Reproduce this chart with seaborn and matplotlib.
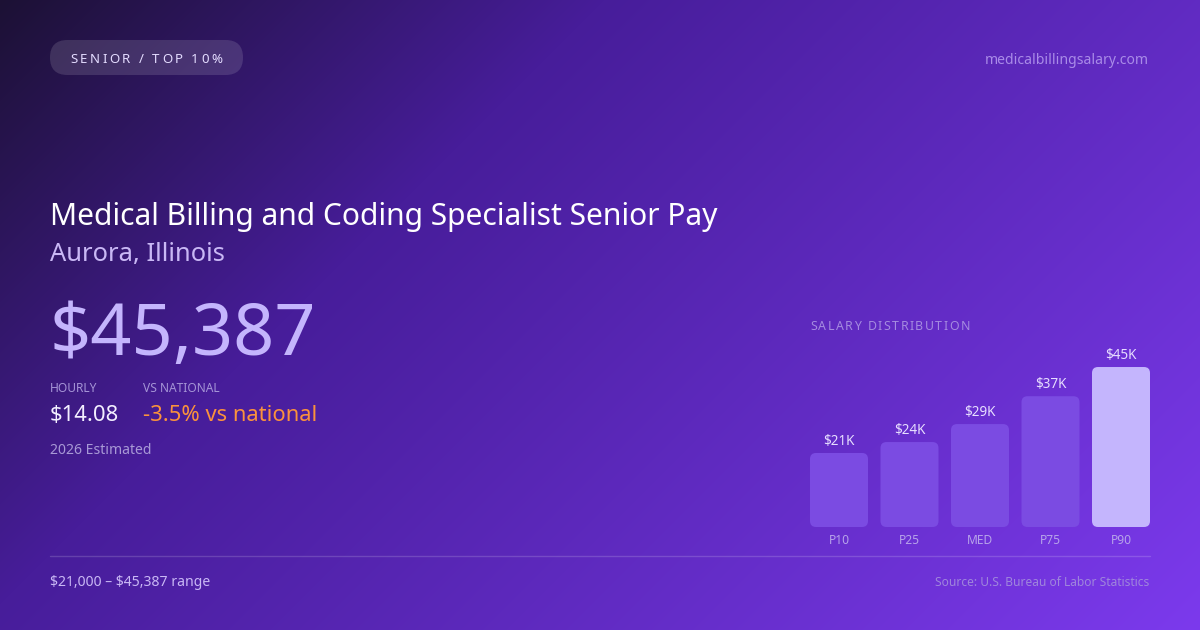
import numpy as np
import pandas as pd
import matplotlib
matplotlib.use("Agg")
import matplotlib.pyplot as plt
import matplotlib.colors as mcolors
from matplotlib.patches import FancyBboxPatch
import seaborn as sns

# ---- data ----
categories = ["P10", "P25", "MED", "P75", "P90"]
salaries = [21000, 24100, 29200, 37100, 45387]
value_labels = ["$21K", "$24K", "$29K", "$37K", "$45K"]
bar_colors = ["#7b4be2", "#7b4be2", "#7b4be2", "#7b4be2", "#c4b5fd"]

badge_text = "SENIOR / TOP 10%"
site = "medicalbillingsalary.com"
title = "Medical Billing and Coding Specialist Senior Pay"
subtitle = "Aurora, Illinois"
big_value = "$45,387"
hourly_label = "HOURLY"
hourly_value = "$14.08"
national_label = "VS NATIONAL"
national_value = "-3.5% vs national"
estimated = "2026 Estimated"
chart_title = "SALARY DISTRIBUTION"
range_text = "$21,000 \u2013 $45,387 range"
source_text = "Source: U.S. Bureau of Labor Statistics"

W, H = 1200, 630
sns.set_theme(style="white")
plt.rcParams["font.family"] = ["Noto Sans", "DejaVu Sans"]
plt.rcParams["text.parse_math"] = False

fig = plt.figure(figsize=(W / 100, H / 100), dpi=100)

# ---- background gradient ----
bg = fig.add_axes([0, 0, 1, 1])
yy, xx = np.mgrid[0:H, 0:W]
t = (xx + yy) / (W + H)
stops_t = [0.0, 0.33, 1.0]
stops_c = [mcolors.to_rgb(c) for c in ["#1c1134", "#471d9a", "#7c3aed"]]
img = np.zeros((H, W, 3))
for ch in range(3):
    img[..., ch] = np.interp(t, stops_t, [c[ch] for c in stops_c])
bg.imshow(img, extent=[0, W, H, 0], aspect="auto", interpolation="bilinear")
bg.set_xlim(0, W)
bg.set_ylim(H, 0)
bg.axis("off")


def pt(px):
    return px * 0.72


def ftext(x, y, s, size, color, ha="left", va="center", weight="normal", alpha=1.0):
    return bg.text(x, y, s, fontsize=pt(size), color=color, ha=ha, va=va,
                   weight=weight, alpha=alpha)


def spaced_text(x, y, s, size, color, spacing):
    renderer = fig.canvas.get_renderer()
    cur = x
    for ch in s:
        tt = bg.text(cur, y, ch, fontsize=pt(size), color=color, ha="left", va="center")
        if ch == " ":
            w = size * 0.26
        else:
            bb = tt.get_window_extent(renderer=renderer)
            w = bb.width
        cur += w + spacing
    return cur


# badge
badge = FancyBboxPatch((50, 40), 193, 35, boxstyle="round,pad=0,rounding_size=17.5",
                       facecolor=(1, 1, 1, 0.13), edgecolor="none")
bg.add_patch(badge)
spaced_text(70, 59.5, badge_text, 13.3, "#e4dcff", 2.5)

ftext(1149, 60, site, 14, "#a98be8", ha="right")

ftext(50, 217, title, 30, "#ffffff")
ftext(50, 254, subtitle, 25.5, "#c9b8f5")
ftext(49, 337, big_value, 72, "#c4b5fd")

ftext(50, 389, hourly_label, 12, "#a594d6")
ftext(50, 415.5, hourly_value, 22, "#f3efff")
ftext(143, 389, national_label, 12, "#a594d6")
ftext(143, 415.5, national_value, 22, "#fb923c")
ftext(50, 451, estimated, 14, "#a899d6")

spaced_text(810, 327, chart_title, 12.3, "#a58be0", 1.5)

bg.plot([50, 1150], [556, 556], color=(1, 1, 1, 0.16), lw=1)
ftext(50, 583, range_text, 14, "#c9b8f5")
ftext(1149, 583, source_text, 12, "#9f86dc", ha="right")

# ---- bar chart ----
slot = 70.5
bar_w = 58 / slot
px_per_unit_y = 3.525 / 1000
ax_left, ax_right = 810, 1150
ax_bottom, ax_top = 527, 340
ax = fig.add_axes([ax_left / W, 1 - ax_bottom / H,
                   (ax_right - ax_left) / W, (ax_bottom - ax_top) / H])
ax.patch.set_alpha(0)
df = pd.DataFrame({"cat": categories, "salary": salaries})
sns.barplot(data=df, x="cat", y="salary", hue="cat", palette=bar_colors,
            width=bar_w, legend=False, ax=ax, saturation=1)
ax.set_xlim(-bar_w / 2, len(categories) - 1 + bar_w / 2)
ax.set_ylim(0, (ax_bottom - ax_top) / px_per_unit_y)

# rounded corners
units_x_per_px = 1 / slot
units_y_per_px = 1 / px_per_unit_y
radius_px = 6
for p in list(ax.patches):
    x0, y0 = p.get_x(), p.get_y()
    w, h = p.get_width(), p.get_height()
    fc = p.get_facecolor()
    p.remove()
    fb = FancyBboxPatch((x0, y0), w, h,
                        boxstyle=f"round,pad=0,rounding_size={radius_px * units_x_per_px}",
                        mutation_aspect=units_y_per_px / units_x_per_px,
                        facecolor=fc, edgecolor="none")
    ax.add_patch(fb)

for i, (v, lab) in enumerate(zip(salaries, value_labels)):
    ax.annotate(lab, (i, v), xytext=(0, pt(11.5)), textcoords="offset points",
                ha="center", va="center", fontsize=pt(13.5), color="#e6ddff")

ax.set_xlabel("")
ax.set_ylabel("")
ax.set_yticks([])
ax.tick_params(axis="x", length=0, pad=pt(7.5), labelsize=pt(12), labelcolor="#b7a3ea")
for s in ax.spines.values():
    s.set_visible(False)
ax.grid(False)

fig.savefig("out.png", dpi=100)
